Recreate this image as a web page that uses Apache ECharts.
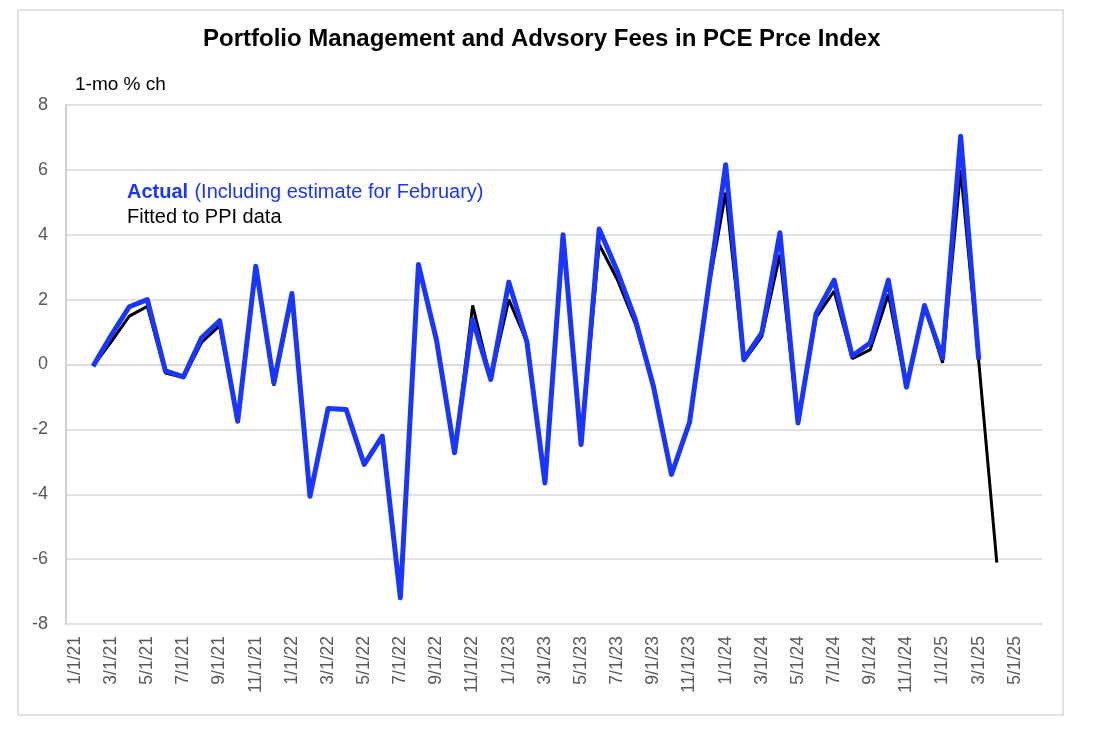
<!DOCTYPE html>
<html>
<head>
<meta charset="utf-8">
<script src="https://cdn.jsdelivr.net/npm/echarts@6/dist/echarts.min.js"></script>
<style>
  html, body { margin: 0; padding: 0; background: #fff; }
  #main { width: 1096px; height: 746px; }
</style>
</head>
<body>
<div id="main"></div>
<script>
// monthly categories, 1/1/21 .. 6/1/25
const months = [
  "1/1/21","2/1/21","3/1/21","4/1/21","5/1/21","6/1/21","7/1/21","8/1/21","9/1/21","10/1/21","11/1/21","12/1/21",
  "1/1/22","2/1/22","3/1/22","4/1/22","5/1/22","6/1/22","7/1/22","8/1/22","9/1/22","10/1/22","11/1/22","12/1/22",
  "1/1/23","2/1/23","3/1/23","4/1/23","5/1/23","6/1/23","7/1/23","8/1/23","9/1/23","10/1/23","11/1/23","12/1/23",
  "1/1/24","2/1/24","3/1/24","4/1/24","5/1/24","6/1/24","7/1/24","8/1/24","9/1/24","10/1/24","11/1/24","12/1/24",
  "1/1/25","2/1/25","3/1/25","4/1/25","5/1/25","6/1/25"
];

// fitted to PPI data (black), 2/21 .. 4/25
const fitted = [
  null, -0.05, 0.7, 1.49, 1.79, -0.26, -0.4, 0.68, 1.2, -1.75, 3.0, -0.65,
  2.1, -4.06, -1.36, -1.39, -3.08, -2.21, -7.2, 3.0, 0.75, -2.72, 1.82, -0.46,
  2.0, 0.7, -3.65, 3.95, -2.47, 3.7, 2.62, 1.25, -0.67, -3.39, -1.78, 2.2,
  5.3, 0.1, 0.87, 3.39, -1.85, 1.45, 2.26, 0.18, 0.46, 2.16, -0.72, 1.8,
  0.05, 6.0, 0.1, -6.11, null, null
];

// actual incl. February estimate (blue), 2/21 .. 3/25
const actual = [
  null, -0.05, 0.9, 1.78, 2.0, -0.2, -0.38, 0.82, 1.35, -1.75, 3.03, -0.57,
  2.19, -4.06, -1.36, -1.39, -3.08, -2.21, -7.19, 3.08, 0.75, -2.72, 1.39, -0.46,
  2.54, 0.7, -3.65, 4.0, -2.47, 4.18, 2.88, 1.39, -0.67, -3.39, -1.78, 2.2,
  6.16, 0.15, 0.98, 4.06, -1.8, 1.57, 2.6, 0.26, 0.67, 2.6, -0.7, 1.82,
  0.2, 7.04, 0.15, null, null, null
];

const font = "Liberation Sans, Arial, sans-serif";

let myChart = echarts.init(document.getElementById('main'));
myChart.setOption({
    animation: false,
    backgroundColor: "#fff",
    textStyle: { fontFamily: font },
    grid: { left: 66, right: 54, top: 105, bottom: 122 },
    graphic: [
        // outer frame
        {
            type: "rect",
            shape: { x: 18, y: 10, width: 1045, height: 705 },
            style: { fill: "none", stroke: "#d9d9d9", lineWidth: 1.5 },
            silent: true
        },
        {
            type: "text",
            left: 203,
            top: 27,
            style: {
                text: "Portfolio Management and Advsory Fees in PCE Prce Index",
                fontFamily: font, fontSize: 24, fontWeight: "bold", fill: "#000"
            }
        },
        {
            type: "text",
            left: 75,
            top: 75,
            style: { text: "1-mo % ch", fontFamily: font, fontSize: 19, fill: "#000" }
        },
        {
            type: "text",
            left: 127,
            top: 182,
            style: {
                text: "{b|Actual} {n|(Including estimate for February)}",
                fontFamily: font,
                rich: {
                    b: { fontFamily: font, fontSize: 20, fontWeight: "bold", fill: "#1836ff", padding: [0, 3, 0, 0] },
                    n: { fontFamily: font, fontSize: 20, fill: "#1836ff" }
                }
            }
        },
        {
            type: "text",
            left: 127,
            top: 207,
            style: { text: "Fitted to PPI data", fontFamily: font, fontSize: 20, fill: "#000" }
        }
    ],
    xAxis: {
        type: "category",
        data: months,
        boundaryGap: true,
        axisLine: { lineStyle: { color: "#d9d9d9", width: 1.5 } },
        axisTick: { interval: 1, length: 5, lineStyle: { color: "#d9d9d9", width: 1.5 } },
        axisLabel: {
            interval: 1,
            rotate: 90,
            margin: 12,
            color: "#595959",
            fontSize: 17.5,
            fontFamily: font
        },
        splitLine: { show: false }
    },
    yAxis: {
        type: "value",
        min: -8,
        max: 8,
        interval: 2,
        axisLine: { show: true, lineStyle: { color: "#bfbfbf", width: 1.5 } },
        axisTick: { show: false },
        axisLabel: { color: "#595959", fontSize: 18, margin: 18, fontFamily: font },
        splitLine: { lineStyle: { color: "#d9d9d9", width: 1.5 } }
    },
    series: [
        {
            name: "Fitted to PPI data",
            type: "line",
            data: fitted,
            showSymbol: false,
            symbol: "none",
            lineStyle: { color: "#000", width: 3 },
            z: 2
        },
        {
            name: "Actual",
            type: "line",
            data: actual,
            showSymbol: false,
            symbol: "none",
            lineStyle: { color: "#1836ff", width: 5, join: "round" },
            z: 3
        }
    ]
});
</script>
</body>
</html>
